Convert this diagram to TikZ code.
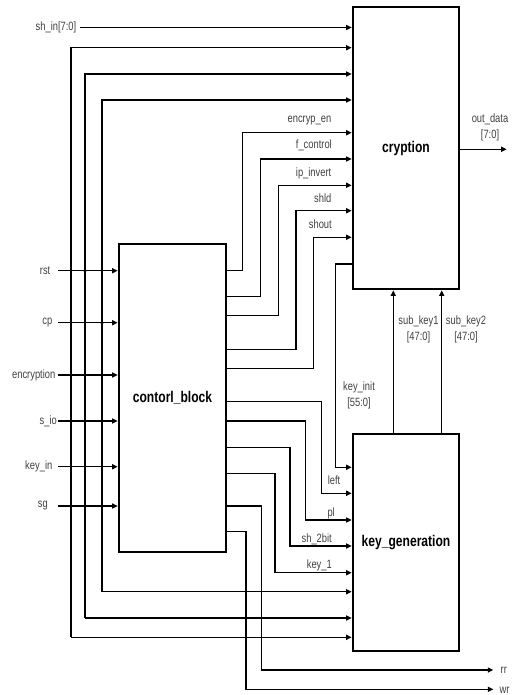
\documentclass[tikz,border=0pt]{standalone}
\usepackage{fontspec}
\setmainfont{Liberation Sans}[FakeStretch=0.78]
\usetikzlibrary{arrows.meta}
\tikzset{
  wire/.style={line width=1.5pt},
  arr/.style={wire,-{Triangle[length=5.5pt,width=5pt]}},
  blk/.style={draw,line width=2.6pt,inner sep=0pt,font=\fontsize{15.5}{18}\selectfont\bfseries},
  lbl/.style={font=\fontsize{12}{14}\selectfont,text=black!75,inner sep=0.5pt},
  twol/.style={lbl,align=center,font=\fontsize{12}{16}\selectfont},
  jdot/.style={circle,fill,inner sep=0pt,minimum size=3.6pt}
}
\begin{document}
\begin{tikzpicture}[x=1pt,y=-1pt]
\useasboundingbox (0,0) rectangle (516,695);

% blocks
\node[blk,minimum width=106pt,minimum height=282pt] (cr) at (406,148) {cryption};
\node[blk,minimum width=106pt,minimum height=217pt] (kg) at (406,542.5) {key\_generation};
\node[blk,minimum width=107pt,minimum height=308pt] (cb) at (172.5,398) {contorl\_block};

% sh_in
\node[lbl,anchor=east] (shinl) at (77,27.5) {sh\_in[7:0]};
\coordinate (shin) at (80,27.5);
\draw[arr] (shin) -- (cr.west |- shin);

% buses
\coordinate (bAt) at (71,47.7);  \coordinate (bAb) at (71,637.3);
\coordinate (bBt) at (85,74);    \coordinate (bBb) at (85,618);
\coordinate (bCt) at (102,100);  \coordinate (bCb) at (102,591.7);
\draw[arr] (bAb) -- (bAt) -- (cr.west |- bAt);
\draw[arr] (bBb) -- (bBt) -- (cr.west |- bBt);
\draw[arr] (bCb) -- (bCt) -- (cr.west |- bCt);
\draw[arr] (bAb) -- (kg.west |- bAb);
\draw[arr] (bBb) -- (kg.west |- bBb);
\draw[arr] (bCb) -- (kg.west |- bCb);

% inputs of control block
\node[lbl,anchor=east] (rstl) at (51,270.7) {rst};
\node[lbl,anchor=east] (cpl) at (53,322.7) {cp};
\node[lbl,anchor=east] (encl) at (56,375) {encryption};
\node[lbl,anchor=east] (siol) at (57.5,421) {s\_io};
\node[lbl,anchor=east] (keyinl) at (53,466.7) {key\_in};
\node[lbl,anchor=east] (sgl) at (48.5,506) {sg};
\coordinate (rsti) at (58,270.7);
\coordinate (cpi) at (58,322.7);
\coordinate (enci) at (58,375);
\coordinate (sioi) at (58,421);
\coordinate (keyini) at (58,466.7);
\coordinate (sgi) at (58,506);
\foreach \c in {rsti,cpi,enci,sioi,keyini,sgi}
  \draw[arr] (\c) -- (cb.west |- \c);
\node[jdot] (j1) at (85,270.7) {};
\node[jdot] (j2) at (102,322.7) {};
\node[jdot] (j3) at (71,375) {};

% control block -> cryption
\draw[arr] (cb.east |- 0,270.7) -| (242.7,132.7) -- (cr.west |- 0,132.7);
\draw[arr] (cb.east |- 0,296.7) -| (260.7,159) -- (cr.west |- 0,159);
\draw[arr] (cb.east |- 0,315.7) -| (278.3,185.3) -- (cr.west |- 0,185.3);
\draw[arr] (cb.east |- 0,349.3) -| (296,210.7) -- (cr.west |- 0,210.7);
\draw[arr] (cb.east |- 0,368.3) -| (313.3,237.3) -- (cr.west |- 0,237.3);
\node[lbl,anchor=east] (l1) at (332,120.3) {encryp\_en};
\node[lbl,anchor=east] (l2) at (332.5,145.7) {f\_control};
\node[lbl,anchor=east] (l3) at (332,173) {ip\_invert};
\node[lbl,anchor=east] (l4) at (332,198.3) {shld};
\node[lbl,anchor=east] (l5) at (332.5,224) {shout};

% key_init
\draw[arr] (cr.west |- 0,264) -| (335.7,467.3) -- (kg.west |- 0,467.3);
\node[twol] (kil) at (359,395) {key\_init\\{[55:0]}};

% control block -> key generation
\draw[arr] (cb.east |- 0,401.7) -| (321.7,493.3) -- (kg.west |- 0,493.3);
\draw[arr] (cb.east |- 0,421) -| (305.7,520) -- (kg.west |- 0,520);
\draw[arr] (cb.east |- 0,447.3) -| (290,546) -- (kg.west |- 0,546);
\draw[arr] (cb.east |- 0,473.3) -| (275,572.7) -- (kg.west |- 0,572.7);
\node[lbl,anchor=east] (l6) at (341,480) {left};
\node[lbl,anchor=east] (l7) at (335.5,513.3) {pl};
\node[lbl,anchor=east] (l8) at (332.5,539) {sh\_2bit};
\node[lbl,anchor=east] (l9) at (332.5,565) {key\_1};

% rr, wr
\coordinate (rro) at (493.3,670);
\coordinate (wro) at (493.3,689.3);
\draw[arr] (cb.east |- 0,506) -| (261.7,670) -- (rro);
\draw[arr] (cb.east |- 0,531.7) -| (246,689.3) -- (wro);
\node[lbl,anchor=west] (rrl) at (500,670.5) {rr};
\node[lbl,anchor=west] (wrl) at (499,690) {wr};

% sub keys
\draw[arr] (kg.north -| 393.3,0) -- (cr.south -| 393.3,0);
\draw[arr] (kg.north -| 441.7,0) -- (cr.south -| 441.7,0);
\node[twol] (sk1) at (418.5,329.5) {sub\_key1\\{[47:0]}};
\node[twol] (sk2) at (466,329.5) {sub\_key2\\{[47:0]}};

% out_data
\coordinate (od) at (506.7,149.3);
\draw[arr] (cr.east |- od) -- (od);
\node[twol] (odl) at (490,127.5) {out\_data\\{[7:0]}};
\end{tikzpicture}
\end{document}
